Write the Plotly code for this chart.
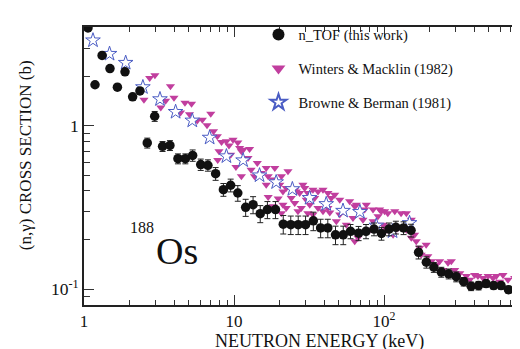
import plotly.graph_objects as go

# ---- n_TOF (this work) ----
ntof_E = [1.063, 1.184, 1.32, 1.49, 1.67, 1.877, 2.11, 2.36, 2.64, 2.96, 3.34, 3.74, 4.23, 4.74,
          5.3, 6.0, 6.7, 7.54, 8.5, 9.5, 10.6, 11.96, 13.4, 14.96, 16.7, 18.9, 21.3, 23.9, 26.8,
          30.0, 33.8, 37.8, 42.2, 47.5, 53.5, 59.8, 67.7, 75.9, 85.8, 96.2, 108, 120, 135, 151.5,
          170, 191.6, 215, 241, 270, 303, 340, 381, 427, 479, 538, 603, 676, 760, 855]
ntof_xs = [3.99, 1.79, 2.71, 2.25, 1.73, 2.15, 1.51, 1.64, 0.787, 1.147, 0.75, 0.76, 0.63, 0.63,
           0.66, 0.58, 0.574, 0.51, 0.407, 0.433, 0.388, 0.317, 0.329, 0.29, 0.307, 0.307, 0.25,
           0.248, 0.248, 0.248, 0.262, 0.237, 0.237, 0.215, 0.215, 0.226, 0.22, 0.226, 0.233,
           0.219, 0.233, 0.239, 0.237, 0.229, 0.168, 0.146, 0.136, 0.127, 0.124, 0.119, 0.111,
           0.104, 0.105, 0.108, 0.105, 0.105, 0.099, 0.097, 0.096]
ntof_err_pct = [2, 2, 2, 2, 2, 2, 2, 2,
                7, 7, 7, 7, 7, 7, 8, 8, 8, 9, 9, 9,
                11, 12, 12, 12, 12, 12, 13, 13, 13, 13, 13, 13, 13, 13, 13,
                10, 10, 10, 9, 9, 9, 9, 9, 9,
                9, 8, 7, 7, 7, 7,
                6, 6, 6, 5, 5, 5, 5, 5, 5]

# ---- Winters & Macklin (1982) ----
wm_E = [2.51, 2.74, 2.97, 3.25, 3.50, 3.77, 3.98, 4.40, 4.71, 5.05, 5.21, 5.69, 6.15, 6.61, 7.0,
        7.30, 7.74, 7.79, 7.94, 8.26, 8.89, 9.26, 9.50, 9.85, 10.3, 10.6, 10.9, 11.2, 11.2, 11.5,
        12.4, 12.7, 13.0, 13.7, 14.3, 15.2, 16.4, 16.4, 16.9, 16.9, 18.2, 18.7, 18.2, 19.7, 20.2,
        20.7, 20.7, 21.2, 21.2, 22.3, 22.3, 22.9, 24.1, 25.4, 25.4, 26.0, 26.7, 27.4, 28.1, 28.8,
        29.6, 30.3, 31.1, 31.1, 32.0, 33.6, 33.6, 34.5, 36.3, 36.3, 39.2, 39.2, 42.3, 42.3, 43.5,
        44.5, 46.9, 48.1, 50.7, 50.7, 53.3, 56.1, 59.0, 62.1, 63.8, 63.8, 65.4, 67.1, 72.4, 74.3,
        76.2, 80.3, 84.5, 84.5, 91.2, 93.5, 95.9, 98.4, 101, 101, 104, 106, 115, 118, 124, 130,
        141, 141, 152, 152, 160, 164, 173, 177, 191, 196, 207, 223, 235, 247, 267, 281, 296, 320,
        354, 373, 402, 423, 457, 494, 533, 561, 590, 621, 671, 743, 845]
wm_xs = [1.45, 1.97, 2.05, 1.30, 1.43, 1.75, 1.49, 1.21, 1.39, 1.18, 1.37, 1.08, 1.09, 1.01, 1.19,
         0.928, 0.865, 0.618, 0.70, 0.798, 0.806, 0.759, 0.667, 0.824, 0.56, 0.792, 0.733, 0.70,
         0.491, 0.716, 0.637, 0.722, 0.539, 0.491, 0.593, 0.515, 0.552, 0.436, 0.491, 0.367, 0.47,
         0.552, 0.322, 0.359, 0.436, 0.491, 0.292, 0.397, 0.329, 0.417, 0.314, 0.527, 0.362,
         0.407, 0.337, 0.397, 0.30, 0.388, 0.314, 0.436, 0.417, 0.353, 0.388, 0.292, 0.329, 0.407,
         0.286, 0.362, 0.397, 0.314, 0.407, 0.30, 0.388, 0.314, 0.295, 0.362, 0.379, 0.26, 0.353,
         0.286, 0.30, 0.248, 0.345, 0.273, 0.322, 0.196, 0.329, 0.206, 0.266, 0.307, 0.329, 0.231,
         0.307, 0.26, 0.279, 0.307, 0.30, 0.248, 0.30, 0.243, 0.231, 0.292, 0.215, 0.30, 0.237,
         0.292, 0.292, 0.231, 0.266, 0.206, 0.215, 0.196, 0.179, 0.162, 0.187, 0.159, 0.148, 0.141,
         0.148, 0.131, 0.145, 0.148, 0.131, 0.125, 0.12, 0.114, 0.122, 0.12, 0.117, 0.12, 0.117,
         0.12, 0.111, 0.122, 0.114, 0.117, 0.114]

# ---- Browne & Berman (1981) ----
bb_E = [1.148, 1.48, 1.896, 2.47, 3.21, 4.08, 5.27, 6.88, 8.9, 11.5, 14.8, 19.1, 24.5, 31.9,
        41.2, 53.3, 69.1, 88.8, 114, 148]
bb_xs = [3.35, 2.77, 2.44, 1.73, 1.46, 1.22, 1.08, 0.848, 0.652, 0.616, 0.498, 0.452, 0.41,
         0.362, 0.332, 0.302, 0.297, 0.245, 0.226, 0.254]

# ---- axis ticks ----
x_major = [1, 10, 100]
x_major_text = ["1", "10", "10<sup>2</sup>"]
y_major = [0.1, 1]
y_major_text = ["10<sup>-1</sup>", "1"]
x_minor = [m * d for d in (1, 10, 100) for m in range(2, 10)]
y_minor = [round(m * d, 6) for d in (0.01, 0.1, 1) for m in range(2, 10)]

FONT = "Liberation Serif, Times New Roman, serif"
MAGENTA = "#C13E9E"
BLUE = "#4A5CC4"
TICKC = "#333"

ntof_err = [v * p / 100.0 for v, p in zip(ntof_xs, ntof_err_pct)]

fig = go.Figure()
fig.add_trace(go.Scatter(
    x=wm_E, y=wm_xs, mode="markers", name="Winters & Macklin (1982)", legendrank=2,
    legendgroup="b",
    marker=dict(symbol="triangle-down", size=8, color=MAGENTA, line=dict(width=0))))
fig.add_trace(go.Scatter(
    x=bb_E, y=bb_xs, mode="markers", name="Browne & Berman (1981)", legendrank=3,
    legendgroup="c",
    marker=dict(symbol="star", size=11, color="white", line=dict(width=1, color=BLUE))))
fig.add_trace(go.Scatter(
    x=ntof_E, y=ntof_xs, mode="markers", name="n_TOF (this work)", legendrank=1,
    legendgroup="a",
    error_y=dict(type="data", array=ntof_err, visible=True, color="#222", thickness=1, width=3),
    marker=dict(symbol="circle", size=9.5, color="#111")))

fig.update_layout(
    width=520, height=349,
    margin=dict(l=76, r=0, t=19, b=52),
    paper_bgcolor="white", plot_bgcolor="white",
    font=dict(family=FONT, color="#111", size=15),
    showlegend=True,
    legend=dict(x=0.393, y=1.03, xanchor="left", yanchor="top",
                bgcolor="rgba(0,0,0,0)", font=dict(family=FONT, size=14.5),
                tracegroupgap=12, itemsizing="constant"),
    xaxis=dict(
        type="log", range=[0, 2.96],
        tickmode="array", tickvals=x_major, ticktext=x_major_text,
        ticks="inside", ticklen=10, tickwidth=1, tickcolor=TICKC,
        showline=True, linecolor="#222", linewidth=1.5, mirror="allticks",
        showgrid=False, zeroline=False,
        tickfont=dict(family=FONT, size=17),
        minor=dict(tickmode="array", tickvals=x_minor, ticks="inside", ticklen=5,
                   tickwidth=1, tickcolor=TICKC, showgrid=False)),
    yaxis=dict(
        type="log", range=[-1.098, 0.607],
        tickmode="array", tickvals=y_major, ticktext=y_major_text,
        ticks="inside", ticklen=10, tickwidth=1, tickcolor=TICKC,
        showline=True, linecolor="#222", linewidth=1.5, mirror=False,
        showgrid=False, zeroline=False,
        tickfont=dict(family=FONT, size=17.5),
        minor=dict(tickmode="array", tickvals=y_minor, ticks="inside", ticklen=6,
                   tickwidth=1, tickcolor=TICKC, showgrid=False)),
)

fig.add_annotation(text="NEUTRON ENERGY (keV)", xref="paper", yref="paper",
                   x=0.5315, y=-0.13, xanchor="center", yanchor="middle",
                   showarrow=False, font=dict(family=FONT, size=18))
fig.add_annotation(text="(n,γ) CROSS SECTION (b)", xref="paper", yref="paper",
                   x=-0.13, y=0.54, xanchor="center", yanchor="middle", textangle=-90,
                   showarrow=False, font=dict(family=FONT, size=17))
fig.add_annotation(text="188", xref="paper", yref="paper", x=0.131, y=0.28,
                   xanchor="center", yanchor="middle", showarrow=False,
                   font=dict(family=FONT, size=16))
fig.add_annotation(text="Os", xref="paper", yref="paper", x=0.21, y=0.194,
                   xanchor="center", yanchor="middle", showarrow=False,
                   font=dict(family=FONT, size=38))

fig.write_html("out.html")
